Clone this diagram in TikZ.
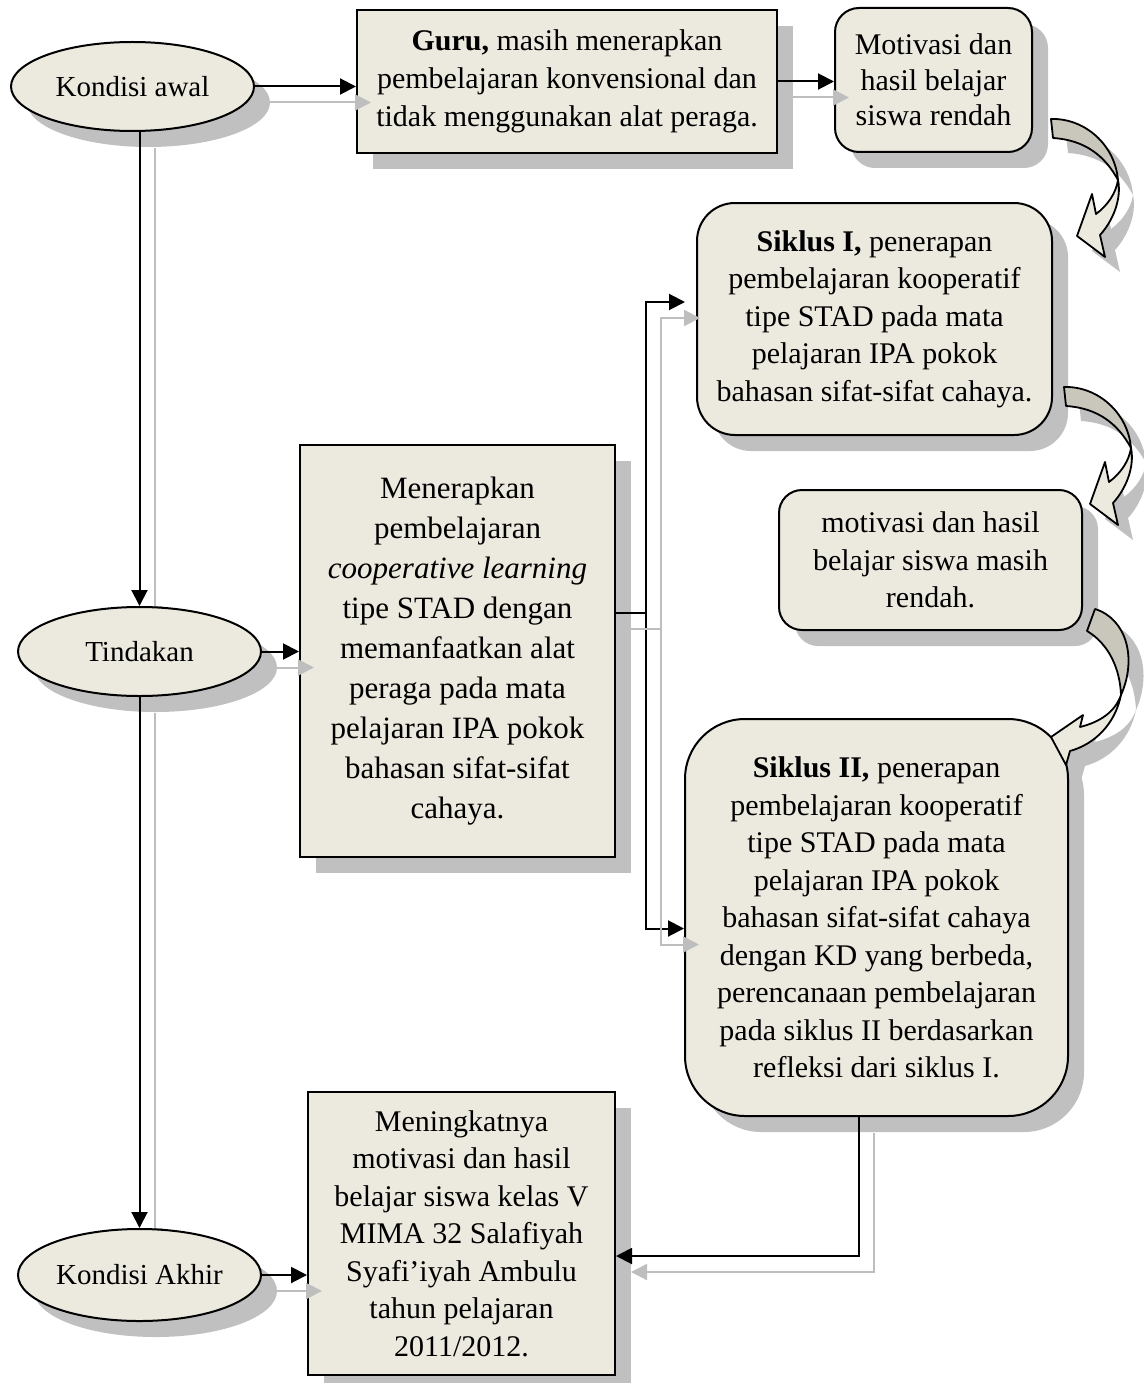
\documentclass[tikz,border=0pt]{standalone}
\usepackage{fontspec}
\setmainfont{Liberation Serif}
\usetikzlibrary{shapes.geometric,arrows.meta,shadows}
\definecolor{boxfill}{RGB}{236,233,223}
\definecolor{backface}{RGB}{201,198,188}
\definecolor{shgray}{RGB}{192,192,192}
\definecolor{lngray}{RGB}{190,190,190}
\pgfdeclarelayer{bg}
\pgfsetlayers{bg,main}
\newcommand{\arrA}[2]{%
  \path[#1] (0,0) .. controls (34,-1) and (64,26) .. (67,61) .. controls (54,37) and (34,21) .. (2,19) -- cycle;
  \path[#2] (67,61) .. controls (71,81) and (61,103) .. (49,116) -- (54,138) -- (26,117) -- (41,75) -- (45,95) .. controls (57,86) and (65,74) .. (67,61) -- cycle;}
\newcommand{\arrB}[2]{%
  \path[#1] (0,0) .. controls (32,10) and (42,50) .. (26,86) .. controls (25,60) and (14,35) .. (-8,22) -- cycle;
  \path[#2] (26,86) .. controls (20,115) and (0,135) .. (-25,142) -- (-29,156) -- (-44,128) -- (-12,106) -- (-15,118) .. controls (5,113) and (20,103) .. (26,86) -- cycle;}
\tikzset{
  base/.style={draw=black, line width=2pt, fill=boxfill, align=center, inner sep=0pt,
    drop shadow={shadow xshift=16pt, shadow yshift=-16pt, fill=shgray, opacity=1},
    font=\fontsize{30}{37.5}\selectfont},
  ell/.style={base, ellipse, minimum width=243pt, minimum height=89pt, font=\fontsize{29}{37}\selectfont},
  sqbox/.style={base, rectangle},
  rbox/.style={base, rectangle, rounded corners=#1},
  conn/.style={line width=2pt, -{Triangle[length=16pt,width=16pt]}},
  sconn/.style={draw=lngray, line width=2pt, -{Triangle[length=16pt,width=16pt]},
    transform canvas={shift={(15pt,-16pt)}}},
  shp/.style={fill=shgray, shift={(15,15)}},
  backp/.style={fill=backface, draw=black, line width=1.8pt, line join=round},
  frontp/.style={fill=boxfill, draw=black, line width=1.8pt, line join=round},
}
\begin{document}
\begin{tikzpicture}[x=1pt,y=-1pt]
\useasboundingbox (0,0) rectangle (1143,1383);

% nodes
\node[ell] (ka) at (132.5,86.5) {Kondisi awal};
\node[ell] (tin) at (139.5,651.5) {Tindakan};
\node[ell, minimum height=92pt] (kak) at (139.5,1275) {Kondisi Akhir};

\node[sqbox, minimum width=420pt, minimum height=143pt, font=\fontsize{30}{38}\selectfont] (guru) at (567,81.5)
  {\textbf{Guru,} masih menerapkan\\pembelajaran konvensional dan\\tidak menggunakan alat peraga.};
\node[rbox=24pt, minimum width=197pt, minimum height=144pt, font=\fontsize{30}{35.5}\selectfont] (mot) at (933.5,80)
  {Motivasi dan\\hasil belajar\\siswa rendah};
\node[rbox=38pt, minimum width=355pt, minimum height=232pt] (s1) at (874.5,319)
  {\textbf{Siklus I,} penerapan\\pembelajaran kooperatif\\tipe STAD pada mata\\pelajaran IPA pokok\\bahasan sifat-sifat cahaya.};
\node[rbox=23pt, minimum width=303pt, minimum height=140pt] (mm) at (930.5,560)
  {motivasi dan hasil\\belajar siswa masih\\rendah.};
\node[rbox=60pt, minimum width=383pt, minimum height=397pt] (s2) at (876.5,917.5)
  {\textbf{Siklus II,} penerapan\\pembelajaran kooperatif\\tipe STAD pada mata\\pelajaran IPA pokok\\bahasan sifat-sifat cahaya\\dengan KD yang berbeda,\\perencanaan pembelajaran\\pada siklus II berdasarkan\\refleksi dari siklus I.};
\node[sqbox, minimum width=315pt, minimum height=412pt, font=\fontsize{31}{40}\selectfont] (men) at (457.5,651)
  {Menerapkan\\pembelajaran\\\textit{cooperative learning}\\tipe STAD dengan\\memanfaatkan alat\\peraga pada mata\\pelajaran IPA pokok\\bahasan sifat-sifat\\cahaya.};
\node[sqbox, minimum width=307pt, minimum height=283pt] (mk) at (461.5,1233.5)
  {Meningkatnya\\motivasi dan hasil\\belajar siswa kelas V\\MIMA 32 Salafiyah\\Syafi’iyah Ambulu\\tahun pelajaran\\2011/2012.};

% curved arrows
\begin{scope}[shift={(1051,119)}]
  \arrA{shp}{shp}
  \arrA{backp}{frontp}
\end{scope}
\begin{scope}[shift={(1064,387)}]
  \arrA{shp}{shp}
  \arrA{backp}{frontp}
\end{scope}
\begin{scope}[shift={(1095,609)}]
  \arrB{shp}{shp}
  \arrB{backp}{frontp}
\end{scope}

\coordinate (fs) at ([yshift=38pt]men.east);
\coordinate (fx) at (646,613);

% connector shadows behind
\begin{pgfonlayer}{bg}
  \draw[sconn] (ka.south -| tin.north) -- (tin.north);
  \draw[sconn] (tin.south) -- (kak.north);
\end{pgfonlayer}

% connectors
\draw[conn] (ka.east) -- (ka.east -| guru.west);
\draw[conn] (guru.east) -- (guru.east -| mot.west);
\draw[conn] (ka.south -| tin.north) -- (tin.north);
\draw[conn] (tin.south) -- (kak.north);
\draw[conn] (tin.east) -- (tin.east -| men.west);
\draw[conn] (kak.east) -- (kak.east -| mk.west);
\draw[conn, shorten >=11pt] (fs) -- (fx) |- ([yshift=17pt]s1.west);
\draw[conn] (fx) |- ([yshift=-11pt]s2.west);
\draw[conn] ([xshift=-17.5pt]s2.south) |- ([yshift=-22.5pt]mk.east);

% connector shadows in front
\draw[sconn] (ka.east) -- (ka.east -| guru.west);
\draw[sconn] (guru.east) -- (guru.east -| mot.west);
\draw[sconn] (tin.east) -- (tin.east -| men.west);
\draw[sconn] (kak.east) -- (kak.east -| mk.west);
\draw[sconn, shorten >=11pt] (fs) -- (fx) |- ([yshift=17pt]s1.west);
\draw[sconn] (fx) |- ([yshift=-11pt]s2.west);
\draw[sconn] ([xshift=-17.5pt]s2.south) |- ([yshift=-22.5pt]mk.east);
\end{tikzpicture}
\end{document}
